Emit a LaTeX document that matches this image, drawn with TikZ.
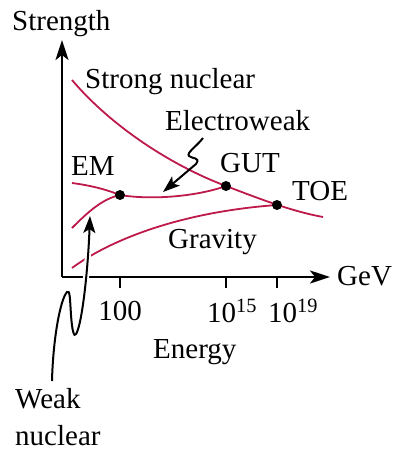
\documentclass[tikz,border=0pt]{standalone}
\usepackage{fontspec}
\setmainfont{Liberation Serif}
\usetikzlibrary{arrows.meta}
\definecolor{curve}{RGB}{190,25,75}
\begin{document}
\begin{tikzpicture}[x=1pt,y=-1pt,
  lbl/.style={inner sep=0pt,font=\fontsize{29}{33}\selectfont},
  force/.style={curve,line width=1.8pt},
  axis/.style={line width=2.2pt,-{Stealth[length=20pt,width=13pt,inset=5pt]}},
  pointer/.style={line width=2pt,-{Stealth[length=17pt,width=12pt,inset=4pt]}},
  halo/.style={preaction={draw,white,line width=6pt,-}},
  dot/.style={circle,fill=black,inner sep=0pt,minimum size=10pt}]
\useasboundingbox (0,0) rectangle (394,453);
% axes
\coordinate (O) at (62,277);
\coordinate (Ytop) at (62,40);
\coordinate (Xend) at (330,277);
\draw[axis] (O) -- (Ytop);
\draw[axis] (O) -- (Xend);
% ticks
\coordinate (t1) at (120,277); \coordinate (t1b) at (120,288);
\coordinate (t2) at (226,277); \coordinate (t2b) at (226,288);
\coordinate (t3) at (277,277); \coordinate (t3b) at (277,288);
\draw[line width=1.6pt] (t1) -- (t1b) (t2) -- (t2b) (t3) -- (t3b);
% points
\coordinate (EW) at (120,195);
\coordinate (GUT) at (226,186);
\coordinate (TOE) at (277,205);
% curves
\draw[force] (72,80) .. controls (110,125) and (170,165) .. (GUT)
  .. controls (255,197) and (290,211) .. (323,217);
\draw[force] (72,183) .. controls (95,186) and (110,191) .. (EW);
\draw[force] (EW) .. controls (150,200) and (195,197) .. (GUT);
\draw[force] (72,228) .. controls (88,212) and (102,199) .. (EW);
\draw[force] (72,268) .. controls (110,240) and (180,212) .. (TOE);
% pointers
\coordinate (ewS) at (203,138);
\coordinate (ewT) at (163,192);
\draw[pointer] (ewS) .. controls (197,146) and (186,153) .. (189,156)
  .. controls (192,159) and (201,157) .. (196,164) -- (ewT);
\coordinate (wkS) at (52,381);
\coordinate (wkT) at (90,216);
\draw[pointer,halo] (wkS) .. controls (53,340) and (60,300) .. (67,292)
  .. controls (70,289) and (70,300) .. (71,315)
  .. controls (72,330) and (74,338) .. (76,334)
  .. controls (82,325) and (88,270) .. (wkT);
% dots
\node[dot] (dEW) at (EW) {};
\node[dot] (dGUT) at (GUT) {};
\node[dot] (dTOE) at (TOE) {};
% labels
\node[lbl,anchor=base west] (strength) at (12,30) {Strength};
\node[lbl,anchor=base west] (strong) at (85,88) {Strong nuclear};
\node[lbl,anchor=base west] (ew) at (165,130) {Electroweak};
\node[lbl,anchor=base west] (em) at (71,175) {EM};
\node[lbl,anchor=base west] (gut) at (220,172) {GUT};
\node[lbl,anchor=base west] (toe) at (292,200) {TOE};
\node[lbl,anchor=base west] (grav) at (168,248) {Gravity};
\node[lbl,anchor=base west] (gev) at (337,285) {GeV};
\node[lbl,anchor=base] (l100) at (120,320) {100};
\node[lbl,anchor=base west] (l15) at (207,322) {10\textsuperscript{15}};
\node[lbl,anchor=base west] (l19) at (268,322) {10\textsuperscript{19}};
\node[lbl,anchor=base west] (energy) at (153,358) {Energy};
\node[lbl,anchor=base west] (weak) at (15,408) {Weak};
\node[lbl,anchor=base west] (nuclear) at (15,445) {nuclear};
\end{tikzpicture}
\end{document}
